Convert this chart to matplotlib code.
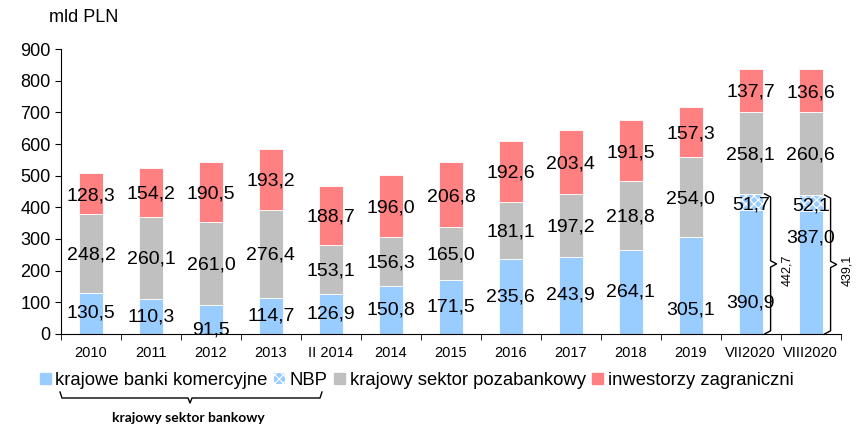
import matplotlib.pyplot as plt
import matplotlib.patches as mpatches
from matplotlib.lines import Line2D
import numpy as np

plt.rcParams['font.family'] = ['Liberation Sans', 'DejaVu Sans']
plt.rcParams['hatch.color'] = 'white'
plt.rcParams['hatch.linewidth'] = 0.8

# dane (mld PLN)
lata = ['2010', '2011', '2012', '2013', 'II 2014', '2014', '2015', '2016',
        '2017', '2018', '2019', 'VII2020', 'VIII2020']
banki = [130.5, 110.3, 91.5, 114.7, 126.9, 150.8, 171.5, 235.6, 243.9, 264.1, 305.1, 390.9, 387.0]
nbp = [0, 0, 0, 0, 0, 0, 0, 0, 0, 0, 0, 51.7, 52.1]
pozabank = [248.2, 260.1, 261.0, 276.4, 153.1, 156.3, 165.0, 181.1, 197.2, 218.8, 254.0, 258.1, 260.6]
zagr = [128.3, 154.2, 190.5, 193.2, 188.7, 196.0, 206.8, 192.6, 203.4, 191.5, 157.3, 137.7, 136.6]
sektor_bankowy = {11: '442,7', 12: '439,1'}

# etykiety przesuniete recznie (indeks -> wysokosc)
banki_lab_y = {2: 13, 10: 76, 11: 98, 12: 303}

kol = {'banki': '#99CCFF', 'nbp': '#99CCFF', 'poza': '#C0C0C0', 'zagr': '#FF8080'}

fig = plt.figure(figsize=(8.65, 4.3), dpi=100)
ax = fig.add_axes([0.0705, 0.2233, 0.9015, 0.6627])

x = np.arange(len(lata))
w = 0.4
b0 = np.zeros(len(lata))
ax.bar(x, banki, w, bottom=b0, color=kol['banki'], edgecolor='white', linewidth=0.6)
b1 = b0 + banki
ax.bar(x, nbp, w, bottom=b1, color=kol['nbp'], edgecolor='white', linewidth=0.6, hatch='xxxx')
b2 = b1 + np.array(nbp)
ax.bar(x, pozabank, w, bottom=b2, color=kol['poza'], edgecolor='white', linewidth=0.6)
b3 = b2 + np.array(pozabank)
ax.bar(x, zagr, w, bottom=b3, color=kol['zagr'], edgecolor='white', linewidth=0.6)

def fmt(v):
    return f'{v:.1f}'.replace('.', ',')

fs = 14
for i in x:
    yb = banki_lab_y.get(i, banki[i] / 2)
    ax.text(i, yb, fmt(banki[i]), ha='center', va='center', fontsize=fs)
    if nbp[i] > 0:
        ax.text(i, b1[i] + nbp[i] / 2 - 8, fmt(nbp[i]), ha='center', va='center', fontsize=fs)
    ax.text(i, b2[i] + pozabank[i] / 2 - 5, fmt(pozabank[i]), ha='center', va='center', fontsize=fs)
    ax.text(i, b3[i] + zagr[i] / 2 - 6, fmt(zagr[i]), ha='center', va='center', fontsize=fs)

# klamry dla sektora bankowego
def klamra(xc, y0, y1, d=0.1, h=10):
    ym = (y0 + y1) / 2
    xs = [xc - d, xc, xc, xc + d, xc, xc, xc - d]
    ys = [y0, y0 + h, ym - h, ym, ym + h, y1 - h, y1]
    ax.plot(xs, ys, color='black', lw=1.0, clip_on=False)

for i, txt in sektor_bankowy.items():
    xb = i + 0.33
    klamra(xb, 0, b2[i])
    ax.text(xb + 0.28, b2[i] / 2 - 20, txt, rotation=90, ha='center', va='center', fontsize=9)

ax.set_xlim(-0.5, len(lata) - 0.5)
ax.set_ylim(0, 900)
ax.set_yticks(range(0, 901, 100))
ax.tick_params(axis='y', labelsize=13, direction='out', length=4)
ax.set_xticks(x)
ax.set_xticklabels(lata, fontsize=10.5)
ax.set_xticks(np.arange(-0.5, len(lata), 1), minor=True)
ax.tick_params(axis='x', which='major', length=0, pad=9)
ax.tick_params(axis='x', which='minor', length=4, direction='out')
for s in ['top', 'right']:
    ax.spines[s].set_visible(False)
ax.spines['left'].set_linewidth(0.8)
ax.spines['bottom'].set_linewidth(0.8)

fig.text(49 / 865, 1 - 18 / 430, 'mld PLN', fontsize=13, ha='left', va='center')

# legenda
uchwyty = [mpatches.Patch(color=kol['banki']),
           mpatches.Patch(facecolor=kol['nbp'], hatch='xxxx', edgecolor='white', linewidth=0),
           mpatches.Patch(color=kol['poza']),
           mpatches.Patch(color=kol['zagr'])]
nazwy = ['krajowe banki komercyjne', 'NBP', 'krajowy sektor pozabankowy', 'inwestorzy zagraniczni']
fig.legend(uchwyty, nazwy, loc='center left', bbox_to_anchor=(0.035, 0.115), ncol=4,
           frameon=False, fontsize=13.3, handlelength=0.6, handleheight=0.6,
           handletextpad=0.25, columnspacing=0.35, borderpad=0)

# klamra pod legenda
W, H = 865, 430
px = lambda xp: xp / W
py = lambda yp: 1 - yp / H
kx = [60, 62, 188, 190, 192, 320, 322]
ky = [392, 398, 398, 403, 398, 398, 392]
fig.add_artist(Line2D([px(v) for v in kx], [py(v) for v in ky], color='black', lw=1.0))
fig.text(px(188), py(418), 'krajowy sektor bankowy', fontsize=10, fontweight='bold',
         family=['Lato', 'DejaVu Sans'], ha='center', va='center')

fig.savefig('out.png', dpi=100)
